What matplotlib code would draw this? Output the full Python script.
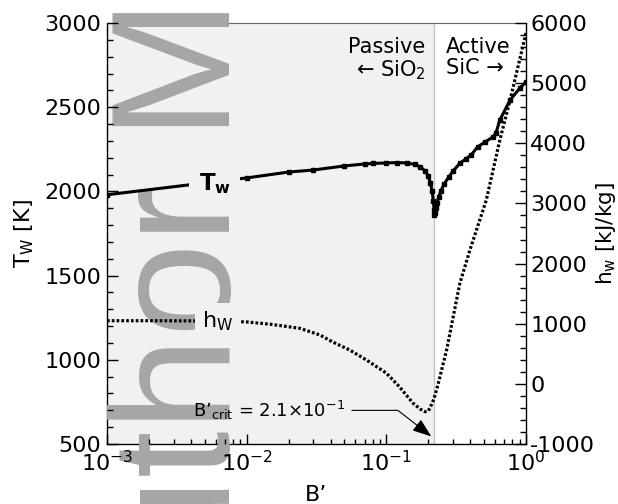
import matplotlib
matplotlib.use("Agg")
import matplotlib.pyplot as plt
from matplotlib.ticker import MultipleLocator, LogLocator, NullFormatter

plt.rcParams["font.family"] = ["DejaVu Sans"]
plt.rcParams["mathtext.fontset"] = "dejavusans"
plt.rcParams["axes.unicode_minus"] = False

# Wall temperature vs. blowing parameter B'
b_tw = [0.001, 0.01, 0.02, 0.03, 0.05, 0.07, 0.08, 0.1, 0.12, 0.14, 0.16, 0.175,
        0.19, 0.2, 0.207, 0.213, 0.217, 0.22, 0.221,
        0.223, 0.226, 0.23, 0.237, 0.245, 0.26, 0.28, 0.30, 0.336, 0.37, 0.405,
        0.45, 0.51, 0.58, 0.61, 0.65, 0.77, 0.906, 1.0]
t_w = [1980, 2080, 2115, 2127, 2151, 2163, 2166, 2169, 2171, 2169, 2160, 2146,
       2120, 2090, 2050, 2000, 1945, 1890, 1860,
       1870, 1900, 1930, 1965, 2000, 2045, 2085, 2120, 2167, 2192, 2216,
       2264, 2294, 2323, 2347, 2424, 2543, 2614, 2650]

# Wall enthalpy vs. blowing parameter B'
b_hw = [0.001, 0.002, 0.004, 0.006, 0.01, 0.015, 0.024, 0.0335, 0.041, 0.055,
        0.072, 0.1, 0.124, 0.155, 0.175, 0.19, 0.2, 0.21, 0.22, 0.234,
        0.27, 0.336, 0.397, 0.52, 0.65, 0.77, 1.0]
h_w = [1050, 1050, 1048, 1045, 1030, 990, 924, 813, 700, 560,
       397, 180, -47, -318, -420, -463, -450, -352, -240, -19,
       560, 1670, 2226, 3057, 4055, 4720, 5833]

B_CRIT = 0.21
B_TRANSITION = 0.22

fig = plt.figure(figsize=(6.18, 5.04), dpi=100)
ax = fig.add_axes([0.1731, 0.1190, 0.6780, 0.8354])
ax2 = ax.twinx()

ax.set_xscale("log")
ax.set_xlim(1e-3, 1.0)
ax.set_ylim(500, 3000)
ax2.set_ylim(-1000, 6000)

# passive-oxidation region shading and transition line
ax.axvspan(1e-3, B_TRANSITION, color="#f1f1f1", zorder=0, lw=0)
ax.axvline(B_TRANSITION, color="#c4c4c4", lw=1.0, zorder=0.5)

ax.plot(b_tw, t_w, color="black", lw=2.2, marker="s", ms=3.4, zorder=3)
ax2.plot(b_hw, h_w, color="black", lw=2.3, dashes=(0.85, 0.65),
         dash_capstyle="butt", zorder=3)

# curve labels
ax.text(0.0059, 2045, r"$\mathbf{T}_\mathbf{w}$", fontsize=16.5, ha="center",
        va="center", zorder=4,
        bbox=dict(boxstyle="square,pad=0.4", fc="#f1f1f1", ec="none"))
ax2.text(0.0062, 1040, r"h$_\mathrm{W}$", fontsize=16, ha="center",
         va="center", zorder=4,
         bbox=dict(boxstyle="square,pad=0.3", fc="#f1f1f1", ec="none"))

ax.text(0.191, 2915, "Passive\n\u2190 SiO$_2$", fontsize=15, ha="right",
        va="top", linespacing=1.05, multialignment="right")
ax.text(0.266, 2915, "Active\nSiC \u2192", fontsize=15, ha="left",
        va="top", linespacing=1.05, multialignment="left")

ax.annotate("B\u2019$_\\mathrm{crit}$ = 2.1\u00d710$^{-1}$",
            xy=(B_CRIT, 545), xytext=(0.00412, 700),
            fontsize=13, ha="left", va="center",
            arrowprops=dict(arrowstyle="-|>,head_length=0.9,head_width=0.33",
                            color="black", lw=0.8,
                            connectionstyle="angle,angleA=0,angleB=-38,rad=0",
                            shrinkA=3, shrinkB=0))

# axes styling
ax.set_xlabel("B\u2019", fontsize=16, labelpad=7)
ax.set_ylabel(r"T$_\mathrm{W}$ [K]", fontsize=16, labelpad=6)
ax2.set_ylabel(r"h$_\mathrm{w}$ [kJ/kg]", fontsize=15.5, labelpad=-1)

ax.yaxis.set_major_locator(MultipleLocator(500))
ax.yaxis.set_minor_locator(MultipleLocator(100))
ax2.yaxis.set_major_locator(MultipleLocator(1000))
ax2.yaxis.set_minor_locator(MultipleLocator(200))
ax.xaxis.set_major_locator(LogLocator(base=10, numticks=10))
ax.xaxis.set_minor_locator(LogLocator(base=10, subs=range(2, 10), numticks=10))
ax.xaxis.set_minor_formatter(NullFormatter())

ax.tick_params(axis="both", which="both", direction="in", labelsize=16,
               top=False, right=False, width=1.0, pad=4)
ax.tick_params(axis="y", which="major", length=8)
ax.tick_params(axis="y", which="minor", length=4)
ax.tick_params(axis="x", which="major", length=7)
ax.tick_params(axis="x", which="minor", length=3.5)
ax2.tick_params(axis="y", which="both", direction="in", labelsize=16,
                width=1.0, pad=3)
ax2.tick_params(axis="y", which="major", length=8)
ax2.tick_params(axis="y", which="minor", length=4)

for side in ("left", "bottom"):
    ax.spines[side].set_linewidth(1.0)
ax.spines["top"].set_color("#666666")
ax.spines["top"].set_linewidth(0.8)
ax.spines["right"].set_visible(False)
for side in ("left", "bottom", "top"):
    ax2.spines[side].set_visible(False)
ax2.spines["right"].set_linewidth(1.0)
ax.set_zorder(1)
ax2.set_zorder(2)
ax2.patch.set_visible(False)
ax.xaxis.set_zorder(2.8)
ax.yaxis.set_zorder(2.8)

# repository watermark
ax.text(230 / 618, -179.5 / 504, "Author Manuscript", transform=fig.transFigure,
        rotation=90, rotation_mode="anchor", ha="left", va="baseline",
        fontsize=121.7, color="#a6a6a6", family="Liberation Sans",
        clip_on=False, zorder=2.7)

fig.savefig("out.png", dpi=100)
